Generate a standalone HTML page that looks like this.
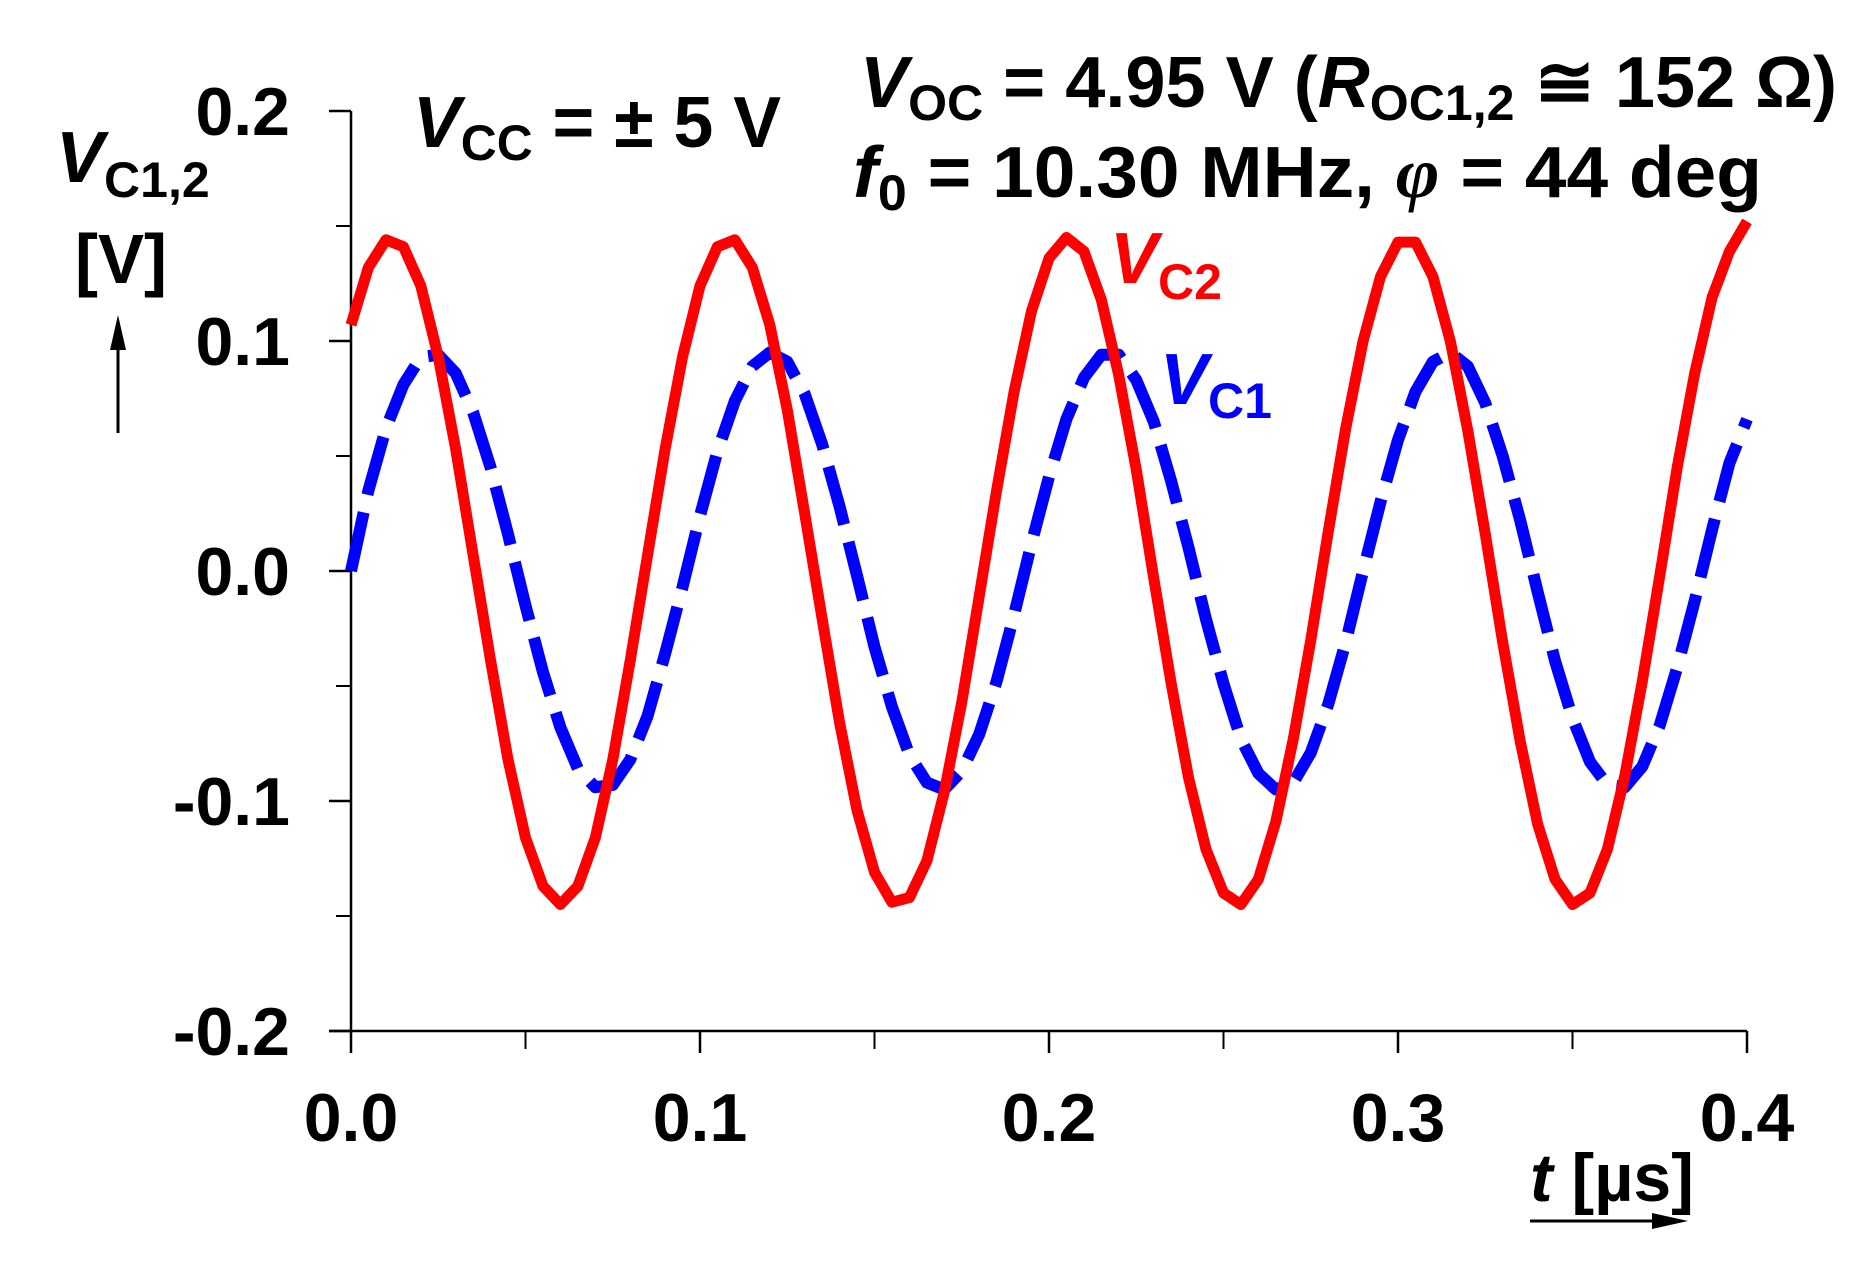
<!DOCTYPE html>
<html><head><meta charset="utf-8"><style>
html,body{margin:0;padding:0;background:#fff;}
svg{display:block;font-family:"Liberation Sans",Arial,sans-serif;font-weight:bold;}
</style></head><body>
<svg id="chart" width="1864" height="1272" viewBox="0 0 1864 1272" xmlns="http://www.w3.org/2000/svg">
<g id="axes"></g>
<g id="series"></g>
<g>
  <text x="56" y="182" font-size="72" font-style="italic">V<tspan font-size="50" font-style="normal" dy="15">C1,2</tspan></text>
  <text x="75" y="283" font-size="70" textLength="92" lengthAdjust="spacingAndGlyphs">[V]</text>
  <line x1="118" y1="433" x2="118" y2="345" stroke="#000" stroke-width="3"/>
  <polygon points="118,315 110,350 126,350" fill="#000"/>
  <text x="413" y="147" font-size="72" textLength="368" lengthAdjust="spacingAndGlyphs"><tspan font-style="italic">V</tspan><tspan font-size="50" dy="13">CC</tspan><tspan dy="-13"> = ± 5 V</tspan></text>
  <text x="860" y="107" font-size="72" textLength="977" lengthAdjust="spacingAndGlyphs"><tspan font-style="italic">V</tspan><tspan font-size="50" dy="13">OC</tspan><tspan dy="-13"> = 4.95 V (</tspan><tspan font-style="italic">R</tspan><tspan font-size="50" dy="13">OC1,2</tspan><tspan dy="-13"> ≅ 152 Ω)</tspan></text>
  <text x="853" y="197" font-size="72" textLength="909" lengthAdjust="spacingAndGlyphs"><tspan font-style="italic">f</tspan><tspan font-size="50" dy="13">0</tspan><tspan dy="-13"> = 10.30 MHz, </tspan><tspan font-style="italic" font-family="Liberation Serif,serif">φ</tspan><tspan> = 44 deg</tspan></text>
  <text x="1110" y="283" font-size="72" fill="#ff0000" font-style="italic">V<tspan font-size="50" font-style="normal" dy="16">C2</tspan></text>
  <text x="1160" y="404" font-size="72" fill="#0000ff" font-style="italic">V<tspan font-size="50" font-style="normal" dy="14">C1</tspan></text>
  <text x="1530" y="1201" font-size="68"><tspan font-style="italic">t</tspan> [µs]</text>
  <line x1="1530" y1="1221" x2="1655" y2="1221" stroke="#000" stroke-width="3"/>
  <polygon points="1688,1221 1652,1213 1652,1229" fill="#000"/>
</g>
</svg>
<script>
const xTicks = [0.0, 0.1, 0.2, 0.3, 0.4];
const xTickLabels = ["0.0", "0.1", "0.2", "0.3", "0.4"];
const yTicks = [0.2, 0.1, 0.0, -0.1, -0.2];
const yTickLabels = ["0.2", "0.1", "0.0", "-0.1", "-0.2"];
const tStep = 0.005;
const vc2 = [0.107,0.132,0.144,0.141,0.124,0.093,0.053,0.007,-0.039,-0.082,-0.116,-0.137,-0.145,-0.137,-0.116,-0.082,-0.039,0.007,0.053,0.093,0.124,0.141,0.144,0.132,0.107,0.070,0.025,-0.021,-0.066,-0.104,-0.131,-0.144,-0.142,-0.126,-0.096,-0.057,-0.011,0.035,0.078,0.113,0.136,0.145,0.139,0.118,0.085,0.044,-0.003,-0.049,-0.090,-0.121,-0.140,-0.145,-0.134,-0.109,-0.073,-0.030,0.017,0.062,0.100,0.128,0.143,0.143,0.128,0.100,0.061,0.016,-0.031,-0.074,-0.110,-0.134,-0.145,-0.140,-0.121,-0.089,-0.048,-0.002,0.045,0.086,0.119,0.139,0.152];
const vc1 = [0.000,0.035,0.062,0.081,0.093,0.094,0.086,0.069,0.045,0.016,-0.015,-0.044,-0.068,-0.086,-0.094,-0.093,-0.082,-0.063,-0.036,-0.007,0.024,0.052,0.074,0.089,0.095,0.091,0.077,0.055,0.028,-0.002,-0.033,-0.059,-0.080,-0.092,-0.095,-0.087,-0.071,-0.048,-0.019,0.012,0.041,0.066,0.084,0.094,0.094,0.083,0.065,0.039,0.010,-0.021,-0.049,-0.073,-0.088,-0.095,-0.092,-0.079,-0.058,-0.031,0.000,0.030,0.057,0.078,0.091,0.095,0.089,0.073,0.050,0.022,-0.009,-0.039,-0.064,-0.083,-0.093,-0.094,-0.085,-0.067,-0.042,-0.013,0.018,0.047,0.066];

const X0 = 351, X1 = 1747, Y0 = 571, YS = 2300;
function xs(t){ return X0 + (t - 0) / 0.4 * (X1 - X0); }
function ys(v){ return Y0 - v * YS; }
const NS = "http://www.w3.org/2000/svg";
function mk(tag, attrs, parent){ const e = document.createElementNS(NS, tag); for (const k in attrs) e.setAttribute(k, attrs[k]); parent.appendChild(e); return e; }

const axes = document.getElementById('axes');
let e;
e = mk('line', {x1: X0, y1: ys(0.2), x2: X0, y2: ys(-0.2), stroke: '#000', 'stroke-width': 2.5}, axes);


e = mk('line', {x1: 329, y1: ys(-0.2), x2: X1, y2: ys(-0.2), stroke: '#000', 'stroke-width': 2.5}, axes);


yTicks.forEach((v, i) => {
  const t = mk('line', {x1: 329, y1: ys(v), x2: X0, y2: ys(v), stroke: '#000', 'stroke-width': 2.5}, axes);
  
  
  const l = mk('text', {x: 290, y: ys(v) + 24, 'font-size': 68, 'text-anchor': 'end'}, axes);
  l.textContent = yTickLabels[i];
  
  
  if (i < yTicks.length - 1) {
    const m = mk('line', {x1: 336, y1: ys(v - 0.05), x2: X0, y2: ys(v - 0.05), stroke: '#000', 'stroke-width': 2}, axes);
    
    
  }
});
xTicks.forEach((v, i) => {
  const t = mk('line', {x1: xs(v), y1: ys(-0.2), x2: xs(v), y2: ys(-0.2) + 22, stroke: '#000', 'stroke-width': 2.5}, axes);
  
  
  const l = mk('text', {x: xs(v), y: 1141, 'font-size': 68, 'text-anchor': 'middle'}, axes);
  l.textContent = xTickLabels[i];
  
  
  if (i < xTicks.length - 1) {
    const m = mk('line', {x1: xs(v + 0.05), y1: ys(-0.2), x2: xs(v + 0.05), y2: ys(-0.2) + 18, stroke: '#000', 'stroke-width': 2}, axes);
    
    
  }
});

const series = document.getElementById('series');
function pts(arr){ return arr.map((v, i) => xs(i * tStep).toFixed(1) + ',' + ys(v).toFixed(1)).join(' '); }
e = mk('polyline', {points: pts(vc1), fill: 'none', stroke: '#0000ff', 'stroke-width': 12, 'stroke-dasharray': '60 18', 'stroke-linejoin': 'round'}, series);


e = mk('polyline', {points: pts(vc2), fill: 'none', stroke: '#ff0000', 'stroke-width': 11, 'stroke-linejoin': 'round'}, series);


</script>
</body></html>
